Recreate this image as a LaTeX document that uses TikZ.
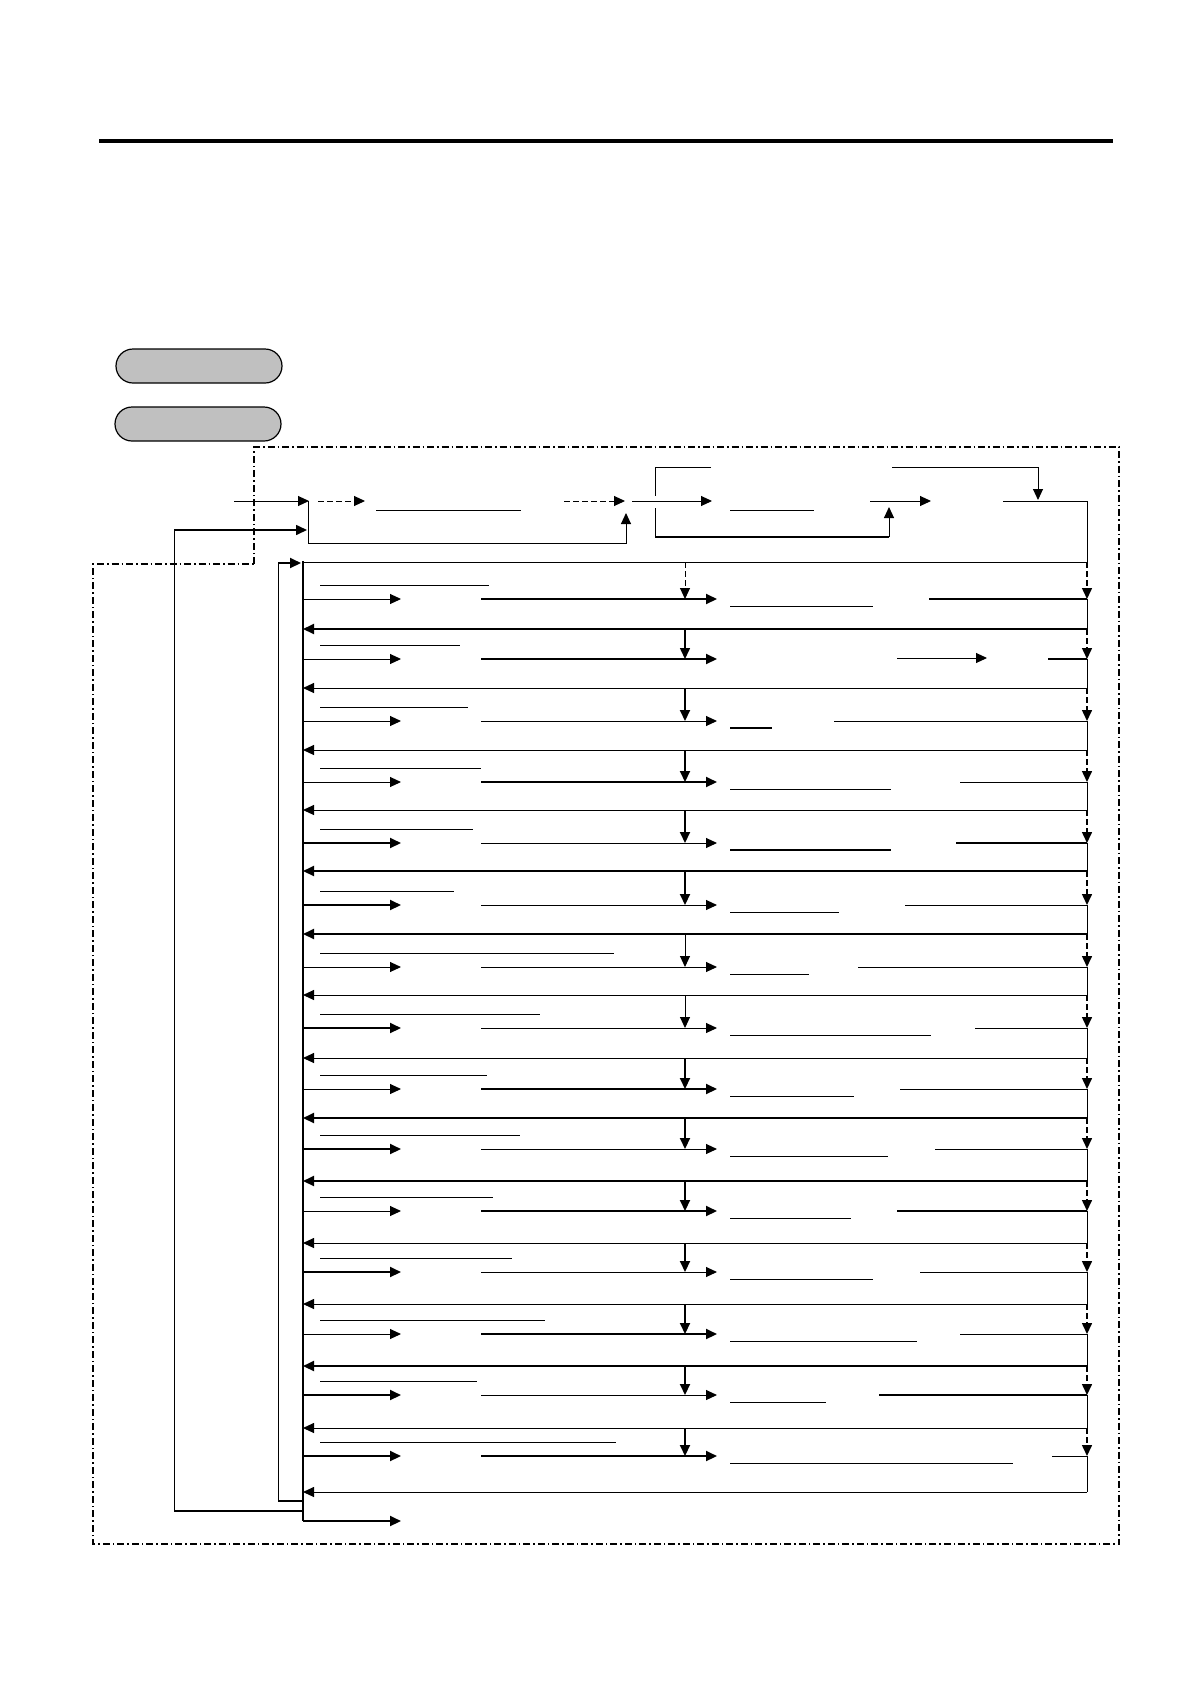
\documentclass[tikz,border=0pt]{standalone}
\usetikzlibrary{arrows.meta, shapes.misc}
\definecolor{pillgray}{HTML}{C0C0C0}
\tikzset{
  tip/.style={-{Triangle[length=11pt,width=10pt]}},
  dashes/.style={dash pattern=on 6pt off 3pt},
  frame/.style={line width=1.1pt, dash pattern=on 7pt off 3pt on 1.5pt off 3pt},
  pill/.style={rounded rectangle, draw, line width=1.2pt, fill=pillgray,
    minimum width=166pt, minimum height=34pt, inner sep=0pt},
}

\begin{document}
\begin{tikzpicture}[x=1pt, y=-1pt, line width=1pt]
		\useasboundingbox (0,0) rectangle (1190,1684);
		% heading rule
		\coordinate (h1) at (99,141);
		\coordinate (h2) at (1113,141);
		\draw[line width=3.5pt] (h1) -- (h2);
		% keys
		\node[pill] (k1) at (199,366) {};
		\node[pill] (k2) at (198,424) {};
		% frame
		\draw[frame] (254,564) -- (254,447) -- (1119,447) -- (1119,1544) -- (93,1544) -- (93,564) -- cycle;
		% top flow
		\coordinate (in) at (234,501);
		\coordinate (s0) at (309,501);
		\coordinate (s1) at (318,501);
		\coordinate (s2) at (365,501);
		\coordinate (s3) at (564,501);
		\coordinate (s4) at (625,501);
		\coordinate (b0) at (308,501);
		\coordinate (b1) at (308,543);
		\coordinate (b2) at (626,513);
		\draw[tip] (in) -> (s0);
		\draw[tip, dashes] (s1) -> (s2);
		\draw[tip, dashes] (s3) -> (s4);
		\draw[tip] (b0) -- (b1) -| (b2);
		\draw (376,510) -- (521,510);
		\coordinate (t0) at (632,501);
		\coordinate (t1) at (712,501);
		\coordinate (t2) at (870,501);
		\coordinate (t3) at (931,501);
		\coordinate (t4) at (1003,501);
		\coordinate (t5) at (1087,501);
		\coordinate (t6) at (1087,562);
		\draw[tip] (t0) -> (t1);
		\draw[tip] (t2) -> (t3);
		\draw (t4) -- (t5) -- (t6);
		\draw (730,510) -- (814,510);
		\coordinate (q0) at (711,467);
		\coordinate (q1) at (655,467);
		\coordinate (q2) at (655,496);
		\coordinate (q3) at (655,508);
		\coordinate (q4) at (655,537);
		\coordinate (q5) at (889,537);
		\coordinate (q6) at (889,507);
		\draw (q0) -- (q1) -- (q2);
		\draw (q3) -- (q4);
		\draw[line width=2pt] (q4) -- (q5);
		\draw[tip] (q5) -> (q6);
		\coordinate (r0) at (892,467);
		\coordinate (r1) at (1038,467);
		\coordinate (r2) at (1038,500);
		\draw[tip] (r0) -- (r1) -- (r2);
		% loops
		\coordinate (top0) at (303,562);
		\draw (top0) -- (t6);
		\coordinate (sp0) at (303,561);
		\coordinate (sp1) at (303,1521);
		\coordinate (fin) at (401,1521);
		\draw[line width=2pt] (sp0) -- (sp1);
		\draw[tip, line width=2pt] (sp1) -> (fin);
		\coordinate (il0) at (303,1501);
		\coordinate (il1) at (278,1501);
		\coordinate (il2) at (278,563);
		\coordinate (il3) at (301,563);
		\draw[line width=2pt] (il0) -- (il1);
		\draw (il1) -- (il2);
		\draw[tip, line width=2pt] (il2) -> (il3);
		\coordinate (ol0) at (303,1511);
		\coordinate (ol1) at (174,1511);
		\coordinate (ol2) at (174,530);
		\coordinate (ol3) at (307,530);
		\draw[line width=2pt] (ol0) -- (ol1);
		\draw (ol1) -- (ol2);
		\draw[tip, line width=1.6pt] (ol2) -> (ol3);
		% rows
		\foreach \yp/\ya/\yr/\xl/\xu/\xs/\la/\lm/\lr/\lt/\ld/\lu [count=\n] in {
			562/599/629/489/873/929/1/2/2/2/1/1,
			629/659/688/460/730/1048/1/2/2/1/1.5/1,
			688/721/750/468/772/834/1/1/1/1/2/2,
			750/782/810/481/891/960/1/2/1/1/2/1,
			810/843/871/473/891/956/2/1/2/2/2/2,
			871/905/934/454/839/905/2/1/1/2/2/1,
			934/967/995/614/809/858/1/1/1/1/1/1,
			995/1028/1058/540/931/975/2/1/1/1/1/1,
			1058/1089/1118/487/854/900/1/2/1/2/2/1,
			1118/1149/1181/520/888/935/2/1/1/2/2/1,
			1181/1211/1243/493/851/897/1/2/2/1/2/1,
			1243/1272/1304/512/873/920/2/1/1/1/2/1,
			1304/1334/1366/545/917/960/1/2/1/2/2/1,
			1366/1395/1428/477/826/879/2/1/2/1/2/1,
			1428/1456/1492/616/1013/1052/2/2/1/1/2/1}{
			\coordinate (a\n) at (303,\ya);
			\coordinate (b\n) at (401,\ya);
			\coordinate (c\n) at (481,\ya);
			\coordinate (d\n) at (717,\ya);
			\coordinate (e\n) at (\xs,\ya);
			\coordinate (f\n) at (1087,\ya);
			\coordinate (g\n) at (1087,\yr);
			\coordinate (h\n) at (303,\yr);
			\coordinate (u\n) at (685,\yp);
			\coordinate (v\n) at (685,\ya);
			\coordinate (w\n) at (1087,\yp);
			\draw (320,\ya-14) -- (\xl,\ya-14);
			\ifnum\xu>730 \draw[line width=\lu pt] (730,\ya+7) -- (\xu,\ya+7); \fi
			\draw[tip, line width=\la pt] (a\n) -> (b\n);
			\draw[tip, line width=\lm pt] (c\n) -> (d\n);
			\draw[line width=\lr pt] (e\n) -- (f\n);
			\draw[tip, dashes, line width=1.5pt] (w\n) -> (f\n);
			\draw (f\n) -- (g\n);
			\draw[tip, line width=\lt pt] (g\n) -> (h\n);
			\ifnum\n=1 \draw[tip, dashes] (u\n) -> (v\n); \else \draw[tip, line width=\ld pt] (u\n) -> (v\n); \fi
		}
		\coordinate (x1) at (897,658);
		\coordinate (x2) at (987,658);
		\draw[tip] (x1) -> (x2);
		\end{tikzpicture}
\end{document}
